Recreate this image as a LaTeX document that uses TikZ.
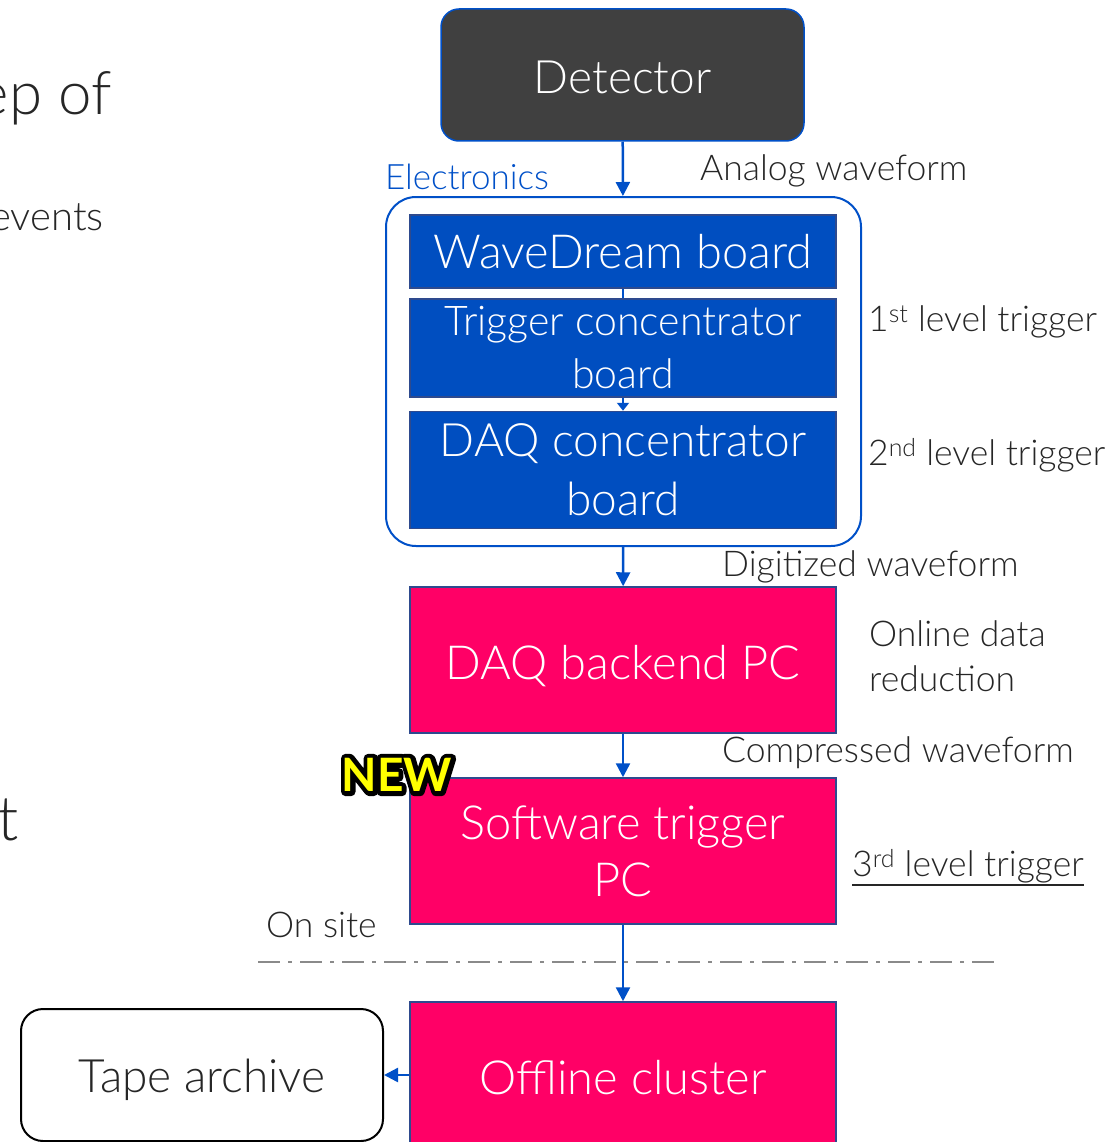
\documentclass[tikz,border=0pt]{standalone}
\usepackage{fontspec}
\setmainfont{Lato}[UprightFont=* Light, BoldFont=* Bold]
\newfontfamily\boldlato{Lato}[UprightFont=* Bold]
\usetikzlibrary{arrows.meta}
\definecolor{dgray}{HTML}{404040}
\definecolor{bfill}{HTML}{004EC0}
\definecolor{bline}{HTML}{0050C8}
\definecolor{pinkf}{HTML}{FF0066}
\definecolor{navy}{HTML}{2E4A8E}
\definecolor{txt}{HTML}{262626}
\definecolor{dashg}{HTML}{8A8A8A}
\definecolor{newy}{HTML}{FFFF00}
\newcommand\glowword[1]{\makebox[0pt][l]{\color{black}\special{pdf:code 2 Tr 9 w 1 j 1 J}#1\special{pdf:code 0 Tr 1 w 0 j 0 J}}\textcolor{newy}{#1}}
\newcommand\shiftt[2]{\raisebox{#1}[\height][\depth]{#2}}
\begin{document}
\begin{tikzpicture}[x=1pt,y=-1pt,
  box/.style={draw=navy, line width=1.5pt, minimum width=426pt, inner sep=0pt, align=center, text=white},
  bluebox/.style={box, fill=bfill},
  pinkbox/.style={box, fill=pinkf},
  arr/.style={draw=bline, line width=2.5pt, -{Triangle[width=14pt,length=14pt]}},
  lbl/.style={anchor=west, inner sep=0pt, text=txt, font=\fontsize{35.5}{45}\selectfont, align=left},
  side/.style={inner sep=0pt, text=txt},
]
\useasboundingbox (0,0) rectangle (1110,1142);
\clip (0,0) rectangle (1110,1142);

% clipped slide text on the left
\node[side, anchor=base east, font=\fontsize{60}{70}\selectfont] (s1) at (112,115) {ep of};
\node[side, anchor=base east, font=\fontsize{40}{45}\selectfont] (s2) at (104,230) {events};
\node[side, anchor=base east, font=\fontsize{62}{70}\selectfont] (s3) at (19,840) {t};

% detector
\node[draw=bline, line width=1.5pt, fill=dgray, rounded corners=18pt, minimum width=363pt,
      minimum height=132pt, text=white, font=\fontsize{46}{50}\selectfont] (det) at (622.5,75) {\shiftt{-2pt}{Detector}};

% electronics group
\node[draw=bline, line width=2pt, rounded corners=30pt, minimum width=475pt, minimum height=349pt] (elec) at (623.5,371.5) {};
\node[text=bline, inner sep=0pt, font=\fontsize{35}{40}\selectfont] (ellbl) at (467,177) {Electronics};

\node[bluebox, minimum height=73pt, font=\fontsize{47}{50}\selectfont] (wd) at (623,251.5) {WaveDream board};
\node[bluebox, minimum height=98pt, font=\fontsize{41}{53}\selectfont] (tc) at (623,348) {Trigger concentrator\\board};
\node[bluebox, minimum height=117pt, font=\fontsize{46}{59}\selectfont] (dc) at (623,470) {DAQ concentrator\\board};

% pink boxes
\node[pinkbox, minimum height=146pt, font=\fontsize{47}{57}\selectfont] (be) at (623,660) {\shiftt{-6pt}{DAQ backend PC}};
\node[pinkbox, minimum height=146pt, font=\fontsize{47}{57}\selectfont] (sw) at (623,851) {Software trigger\\PC};
\node[pinkbox, minimum height=160pt, font=\fontsize{47}{57}\selectfont] (off) at (623,1082) {\shiftt{4pt}{Offline cluster}};

\node[draw=black, line width=2pt, rounded corners=22pt, minimum width=362pt, minimum height=132pt,
      fill=white, text=txt, font=\fontsize{46}{50}\selectfont] (tape) at (202,1075) {\shiftt{-5pt}{Tape archive}};

% NEW badge
\node[inner sep=0pt, font=\boldlato\fontsize{46}{50}\selectfont] (new) at (397,775) {\glowword{NEW}};

% on site divider
\node[lbl] (onsite) at (266,925) {On site};
\coordinate (dl) at (258,962);
\coordinate (dr) at (996,962);
\draw[dashg, line width=2pt, dash pattern=on 22pt off 8pt on 4pt off 8pt] (dl) -- (dr);

% connectors
\draw[arr] (det) -- (elec);
\draw[bline, line width=2pt] (wd) -- (tc);
\draw[bline, line width=2pt, -{Triangle[width=12pt,length=8pt]}] (tc) -- (dc);
\draw[arr] (elec) -- (be);
\draw[arr] (be) -- (sw);
\draw[arr] (sw) -- (off);
\draw[arr] (off.west |- tape.east) -- (tape.east);

% side labels
\node[lbl] (aw) at (700,171) {Analog waveform};
\node[lbl] (l1) at (868,322) {1\textsuperscript{st} level trigger};
\node[lbl] (l2) at (868,455) {2\textsuperscript{nd} level trigger};
\node[lbl] (dw) at (722,567) {Digitized waveform};
\node[lbl] (odr) at (869,656) {Online data\\reduction};
\node[lbl] (cw) at (722,753) {Compressed waveform};
\node[lbl] (l3) at (852,866) {3\textsuperscript{rd} level trigger};
\draw[txt, line width=2.5pt] ([yshift=-2pt]l3.south west) -- ([yshift=-2pt]l3.south east);
\end{tikzpicture}
\end{document}
